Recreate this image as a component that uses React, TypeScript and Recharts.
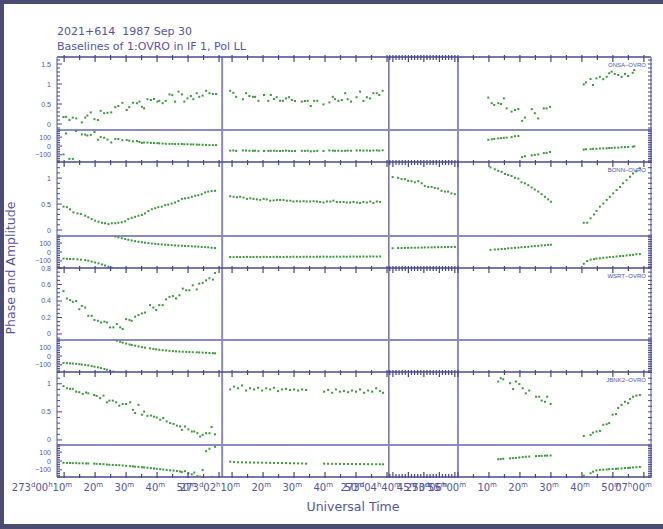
import React from "react";
import { ScatterChart, Scatter, XAxis, YAxis, ReferenceLine } from "recharts";

// observed blocks of the broken UT axis (minutes on day 273)
const SEGMENTS: [number, number][] = [
  [7.7, 61.0],
  [126.8, 180.6],
  [278.7, 301.0],
  [360.0, 422.3],
];

const X_MAJOR = [10, 20, 30, 40, 50, 60, 130, 140, 150, 160, 170, 180, 280, 285, 290, 295, 300, 360, 370, 380, 390, 400, 410, 420];
const X_MINOR = [15, 25, 35, 45, 55, 135, 145, 155, 165, 175, 279, 281, 282, 283, 284, 286, 287, 288, 289, 291, 292, 293, 294, 296, 297, 298, 299, 365, 375, 385, 395, 405, 415];
// [day, hour, minute] pieces of each time label
const X_LABELS: Record<number, [string, string, string]> = {
  10: ["273", "00", "10"], 20: ["", "", "20"], 30: ["", "", "30"], 40: ["", "", "40"], 50: ["", "", "50"],
  130: ["273", "02", "10"], 140: ["", "", "20"], 150: ["", "", "30"], 160: ["", "", "40"],
  170: ["", "", "50"], 280: ["273", "04", "40"], 285: ["", "", "45"], 290: ["", "", "50"],
  295: ["", "", "55"], 360: ["273", "06", "00"], 370: ["", "", "10"], 380: ["", "", "20"],
  390: ["", "", "30"], 400: ["", "", "40"], 410: ["", "", "50"], 420: ["", "07", "00"],
};

const ONSA_TIME = [
  9.8, 10.6, 11.7, 12.8, 13.9, 15.7, 16.8, 17.5, 18.6, 19.8, 20.9, 21.8, 22.9, 24.0, 25.2, 26.5, 27.5, 28.8, 30.2, 31.0,
  32.2, 33.5, 34.3, 35.1, 35.8, 36.9, 38.0, 39.0, 40.1, 40.7, 41.8, 42.8, 44.0, 44.9, 45.8, 46.9, 48.0, 48.8, 49.8, 50.9,
  51.7, 52.8, 53.6, 54.7, 55.8, 56.9, 58.0, 59.0,
  129.4, 130.4, 131.3, 133.5, 134.5, 135.6, 136.7, 137.4, 138.5, 140.3, 141.7, 142.5, 143.5, 144.4, 145.5, 146.4, 147.4,
  148.4, 149.3, 150.3, 152.5, 153.5, 154.4, 155.4, 156.5, 157.5, 159.5, 161.4, 162.5, 163.2, 164.3, 165.4, 166.5, 167.3,
  168.4, 170.2, 171.3, 172.4, 173.5, 174.5, 175.6, 176.7, 177.5, 178.6,
  369.8, 370.9, 371.7, 373.0, 373.9, 374.8, 375.7, 377.3, 378.4, 379.5, 380.7, 381.6, 383.8, 384.8, 385.9, 387.7, 388.6, 389.7,
  400.6, 401.3, 402.8, 403.6, 404.7, 405.8, 406.9, 408.0, 408.8, 409.6, 410.6, 411.7, 412.8, 413.9, 414.9, 416.4, 416.9,
];
const ONSA_AMP = [
  0.175, 0.18, 0.1, 0.16, 0.14, 0.04, 0.16, 0.21, 0.29, 0.12, 0.1, 0.33, 0.27, 0.28, 0.29, 0.42, 0.45, 0.53, 0.35, 0.42,
  0.53, 0.52, 0.56, 0.43, 0.39, 0.62, 0.6, 0.625, 0.56, 0.58, 0.52, 0.58, 0.74, 0.72, 0.56, 0.81, 0.74, 0.56, 0.64, 0.7,
  0.62, 0.77, 0.68, 0.71, 0.83, 0.77, 0.75, 0.75,
  0.83, 0.78, 0.68, 0.62, 0.77, 0.7, 0.68, 0.68, 0.58, 0.725, 0.58, 0.725, 0.625, 0.67, 0.58, 0.58, 0.64, 0.67, 0.6, 0.575,
  0.56, 0.575, 0.58, 0.45, 0.58, 0.58, 0.49, 0.54, 0.68, 0.62, 0.58, 0.6, 0.77, 0.62, 0.56, 0.67, 0.81, 0.575, 0.67, 0.64,
  0.77, 0.77, 0.725, 0.83,
  0.66, 0.52, 0.475, 0.52, 0.5, 0.64, 0.39, 0.31, 0.35, 0.375, 0.08, 0.16, 0.37, 0.27, 0.14, 0.39, 0.39, 0.43,
  0.99, 1.04, 1.125, 0.975, 1.14, 1.18, 1.12, 1.18, 1.27, 1.31, 1.25, 1.225, 1.18, 1.25, 1.2, 1.28, 1.35,
];
const ONSA_PHASE = [
  -94, 141, -145, -145, 168, 130, 128, 118, 125, 158, 70, 100, 92, 72, 40, 80, 78, 65, 68, 60,
  52, 55, 45, 35, 40, 38, 35, 33, 33, 30, 28, 25, 24, 24, 22, 22, 22, 20, 20, 18,
  18, 16, 15, 14, 12, 10, 10, 10,
  -52, -50, -55, -50, -52, -54, -55, -53, -58, -56, -55, -54, -53, -55, -56, -54, -52, -55, -57, -56,
  -54, -55, -53, -60, -58, -55, -56, -50, -52, -54, -53, -55, -54, -52, -53, -51, -50, -52, -51, -53,
  -50, -49, -52, -48,
  70, 75, 80, 85, 88, 92, 95, 100, 110, 112, -125, -115, -105, -100, -95, -80, -78, -68,
  -40, -37, -36, -32, -32, -28, -27, -26, -22, -22, -19, -18, -14, -13, -11, -8, -4,
];

const BONN_TIME = [
  9.8, 10.9, 11.9, 13.0, 14.3, 15.4, 16.8, 17.8, 18.9, 20.0, 21.1, 22.2, 23.2, 24.3, 25.4, 26.5, 27.5, 28.6, 29.7, 30.7,
  31.8, 32.9, 34.0, 35.1, 36.1, 37.2, 38.3, 39.4, 40.4, 41.5, 42.6, 43.6, 44.7, 45.8, 46.9, 48.0, 49.0, 50.1, 51.2, 52.3,
  53.3, 54.4, 55.5, 56.5, 57.6, 58.7,
  129.4, 130.5, 131.6, 132.6, 133.7, 134.8, 135.9, 136.9, 138.0, 139.1, 140.2, 141.2, 142.3, 143.4, 144.5, 145.5, 146.6,
  147.7, 148.8, 149.8, 150.9, 152.0, 153.1, 154.1, 155.2, 156.3, 157.4, 158.4, 159.5, 160.6, 161.7, 162.7, 163.8, 164.9,
  166.0, 167.0, 168.1, 169.2, 170.3, 171.3, 172.4, 173.5, 174.6, 175.6, 176.7, 177.8,
  279.9, 281.7, 282.8, 283.9, 284.9, 286.0, 287.1, 288.2, 289.3, 290.3, 291.4, 292.5, 293.5, 294.6, 295.7, 296.8, 297.8,
  298.9, 300.0,
  370.5, 371.9, 373.0, 374.1, 375.2, 376.2, 377.3, 378.4, 379.5, 380.5, 381.6, 382.7, 383.8, 384.8, 385.9, 387.0, 388.1,
  389.1, 390.0,
  400.6, 401.7, 402.8, 403.9, 404.7, 405.8, 406.9, 408.0, 409.0, 410.1, 411.2, 412.3, 413.3, 414.4, 415.5, 416.5, 417.6, 418.7,
];
const BONN_AMP = [
  0.45, 0.44, 0.4, 0.34, 0.32, 0.31, 0.275, 0.245, 0.21, 0.18, 0.16, 0.14, 0.13, 0.115, 0.13, 0.13, 0.14, 0.15, 0.17, 0.21,
  0.235, 0.255, 0.275, 0.29, 0.32, 0.365, 0.4, 0.42, 0.44, 0.45, 0.48, 0.49, 0.51, 0.53, 0.56, 0.6, 0.61, 0.62, 0.64, 0.66,
  0.67, 0.69, 0.725, 0.74, 0.75, 0.755,
  0.65, 0.64, 0.63, 0.64, 0.625, 0.6, 0.61, 0.6, 0.59, 0.58, 0.6, 0.59, 0.565, 0.57, 0.58, 0.58, 0.58, 0.565, 0.565, 0.55,
  0.555, 0.55, 0.555, 0.55, 0.55, 0.555, 0.55, 0.54, 0.53, 0.55, 0.55, 0.565, 0.54, 0.54, 0.54, 0.53, 0.53, 0.54, 0.53, 0.52,
  0.54, 0.53, 0.55, 0.52, 0.55, 0.54,
  1.02, 1.005, 0.98, 0.98, 0.95, 0.94, 0.92, 0.94, 0.9, 0.85, 0.83, 0.83, 0.81, 0.8, 0.755, 0.74, 0.74, 0.705, 0.69,
  1.205, 1.17, 1.14, 1.12, 1.08, 1.06, 1.04, 1.005, 0.99, 0.92, 0.9, 0.865, 0.82, 0.78, 0.74, 0.69, 0.64, 0.59, 0.545,
  0.14, 0.14, 0.225, 0.3, 0.37, 0.45, 0.51, 0.58, 0.64, 0.705, 0.77, 0.83, 0.9, 0.96, 1.025, 1.09, 1.13, 1.19,
];
const BONN_PHASE = [
  -74, -76, -78, -80, -83, -86, -92, -98, -108, -118, -128, -140, -152, -165, -178, 175, 165, 155, 146, 138,
  130, 122, 115, 110, 105, 100, 96, 92, 88, 85, 82, 80, 77, 74, 72, 70, 68, 66, 64, 62,
  60, 57, 55, 52, 48, 45,
  -56, -58, -55, -57, -56, -55, -57, -56, -55, -56, -54, -55, -56, -55, -54, -55, -56, -54, -55, -53,
  -54, -55, -54, -53, -54, -55, -53, -54, -52, -53, -54, -53, -52, -53, -52, -54, -52, -51, -53, -52,
  -51, -52, -50, -51, -52, -50,
  42, 44, 45, 46, 47, 48, 48, 49, 50, 51, 52, 52, 53, 54, 54, 55, 56, 56, 57,
  24, 28, 30, 34, 35, 41, 43, 47, 49, 54, 56, 59, 64, 66, 69, 74, 76, 80, 82,
  -133, -102, -86, -81, -74, -71, -65, -62, -57, -55, -50, -46, -45, -39, -36, -32, -26, -24,
];

const WSRT_TIME = [
  9.8, 10.9, 11.9, 12.8, 13.9, 14.9, 15.7, 16.8, 17.8, 18.9, 19.8, 20.9, 21.9, 23.0, 23.8, 24.8, 25.9, 27.0, 28.1, 28.9,
  30.0, 31.1, 31.8, 32.9, 34.0, 35.1, 36.1, 37.7, 38.8, 39.7, 40.7, 41.8, 42.9, 44.0, 45.1, 46.1, 47.2, 48.3, 49.4, 50.4,
  51.5, 52.8, 53.6, 54.7, 55.8, 56.9, 58.0, 58.7,
];
const WSRT_AMP = [
  0.52, 0.43, 0.41, 0.39, 0.4, 0.3, 0.34, 0.32, 0.22, 0.22, 0.17, 0.16, 0.14, 0.15, 0.14, 0.08, 0.08, 0.12, 0.08, 0.06,
  0.18, 0.17, 0.16, 0.21, 0.23, 0.25, 0.26, 0.35, 0.32, 0.29, 0.35, 0.35, 0.42, 0.45, 0.46, 0.43, 0.47, 0.55, 0.53, 0.53,
  0.59, 0.54, 0.61, 0.62, 0.65, 0.675, 0.66, 0.74,
];
const WSRT_PHASE = [
  -78, -80, -82, -85, -88, -92, -96, -100, -106, -114, -120, -128, -136, -146, -155, -165, -176, 172, 160, 150,
  140, 130, 124, 116, 108, 100, 94, 86, 80, 75, 70, 66, 62, 58, 55, 52, 50, 48, 46, 44,
  43, 41, 40, 38, 36, 34, 32, 30,
];

const JBNK_TIME = [
  9.8, 10.9, 11.9, 12.8, 13.9, 14.9, 16.0, 17.1, 17.8, 19.7, 20.5, 21.6, 22.7, 23.8, 24.6, 25.7, 26.8, 27.8, 28.9, 30.0,
  31.3, 32.2, 32.9, 34.0, 35.1, 35.8, 36.9, 38.0, 39.0, 39.9, 41.0, 42.0, 43.1, 44.2, 45.3, 46.4, 47.4, 48.0, 49.0, 50.1,
  51.2, 52.0, 53.0, 53.9, 54.7, 55.8, 56.9, 57.6, 58.7,
  129.4, 130.6, 131.9, 133.2, 134.5, 135.8, 137.1, 138.4, 139.7, 141.0, 142.3, 143.5, 144.8, 146.1, 147.4, 148.7, 150.0,
  151.3, 152.6, 153.9, 159.7, 161.0, 162.3, 163.5, 164.8, 166.1, 167.4, 168.7, 170.0, 171.3, 172.6, 173.9, 175.2, 176.5,
  177.7, 178.7,
  373.0, 373.8, 374.6, 376.8, 377.8, 378.7, 379.8, 380.9, 381.9, 383.0, 385.2, 386.2, 387.0, 388.1, 388.8, 389.9,
  400.6, 402.8, 403.6, 404.7, 405.8, 406.9, 408.0, 408.8, 409.9, 411.0, 411.7, 412.8, 413.9, 414.9, 415.5, 416.5, 417.6, 418.7,
];
const JBNK_AMP = [
  0.96, 0.92, 0.91, 0.91, 0.86, 0.85, 0.82, 0.845, 0.83, 0.8, 0.785, 0.745, 0.79, 0.67, 0.7, 0.7, 0.67, 0.61, 0.64, 0.64,
  0.67, 0.535, 0.48, 0.625, 0.45, 0.505, 0.43, 0.435, 0.415, 0.4, 0.36, 0.39, 0.33, 0.3, 0.285, 0.255, 0.24, 0.18, 0.24, 0.19,
  0.15, 0.15, 0.12, 0.06, 0.09, 0.12, 0.12, 0.23, 0.1,
  0.9, 0.95, 0.92, 0.97, 0.88, 0.92, 0.9, 0.93, 0.88, 0.92, 0.9, 0.93, 0.87, 0.9, 0.91, 0.89, 0.9, 0.88, 0.9, 0.89,
  0.86, 0.89, 0.84, 0.9, 0.86, 0.87, 0.85, 0.88, 0.86, 0.9, 0.84, 0.88, 0.86, 0.92, 0.87, 0.84,
  1.04, 1.1, 1.08, 1.01, 0.905, 1.04, 0.995, 0.92, 0.83, 0.88, 0.77, 0.77, 0.7, 0.68, 0.77, 0.64,
  0.07, 0.09, 0.13, 0.15, 0.16, 0.27, 0.28, 0.3, 0.45, 0.46, 0.57, 0.625, 0.68, 0.655, 0.73, 0.77, 0.79, 0.8,
];
const JBNK_PHASE = [
  -20, -22, -22, -24, -24, -26, -26, -28, -28, -30, -32, -34, -36, -40, -42, -44, -46, -48, -50, -54,
  -58, -60, -64, -66, -70, -72, -76, -80, -84, -88, -92, -96, -100, -105, -108, -112, -118, -125, -115, -140,
  -150, -130, -170, -175, -100, 110, 138, -178, 160,
  -8, -12, -14, -15, -16, -17, -18, -18, -19, -20, -21, -22, -22, -23, -24, -25, -26, -27, -28, -30,
  -30, -31, -32, -32, -33, -33, -34, -34, -35, -35, -35, -36, -36, -36, -37, -37,
  20, 22, 25, 30, 32, 35, 40, 44, 48, 50, 55, 57, 58, 60, 61, 62,
  -165, -138, -120, -106, -100, -98, -95, -92, -90, -88, -86, -84, -80, -78, -76, -72, -70, -67,
];

const W = 663;
const TEXT = "#5454a4";
const TICK = "#45458e";
const FRAME = "#8a8ac6";
const DARK = "#4a4a90";
const DOT = "#3a9a3a";

const TOTAL = SEGMENTS.reduce((s, [a, b]) => s + (b - a), 0);

function toDisp(t: number) {
  let off = 0;
  for (const [a, b] of SEGMENTS) {
    if (t <= b + 1e-9) return off + Math.max(0, t - a);
    off += b - a;
  }
  return off;
}

const DIVIDERS = SEGMENTS.slice(0, -1).map((_, i) =>
  SEGMENTS.slice(0, i + 1).reduce((s, [a, b]) => s + (b - a), 0)
);

const X_TICKS = [
  ...X_MAJOR.map((t) => ({ t, major: true })),
  ...X_MINOR.map((t) => ({ t, major: false })),
]
  .map((k) => ({ ...k, d: toDisp(k.t) }))
  .sort((a, b) => a.d - b.d);
const X_TICK_VALUES = X_TICKS.map((k) => k.d);

function findX(v: number) {
  return X_TICKS.find((k) => Math.abs(k.d - v) < 1e-6);
}

function yTicks(domain: number[], step: number) {
  const out: number[] = [];
  for (let k = Math.ceil(domain[0] / step - 1e-9); k <= Math.floor(domain[1] / step + 1e-9); k++) {
    out.push(Number((k * step).toFixed(4)));
  }
  return out;
}

const fmt = (v: number) => String(v).replace("-", "\u2212");

const makeLeftTick = (majors: number[]) => (p: any) => {
  const v = p.payload.value;
  const major = majors.some((m) => Math.abs(m - v) < 1e-6);
  return (
    <g>
      <line x1={p.x} x2={p.x + (major ? 5 : 3)} y1={p.y} y2={p.y} stroke={TICK} strokeWidth={1} />
      {major && (
        <text x={p.x - 6} y={p.y + 2.5} textAnchor="end" fontSize={7} fill={TEXT} fontFamily="Liberation Sans">
          {fmt(v)}
        </text>
      )}
    </g>
  );
};

const rightTick = (p: any) => (
  <line x1={p.x - 3} x2={p.x + 1} y1={p.y} y2={p.y} stroke={TICK} strokeWidth={1} />
);

const topTick = (p: any) => {
  const k = findX(p.payload.value);
  const len = k && k.major ? 5 : 3;
  return <line x1={p.x} x2={p.x} y1={p.y - 2} y2={p.y + len} stroke={TICK} strokeWidth={1.2} />;
};

const bottomTick = (p: any) => {
  const k = findX(p.payload.value);
  const lab = k && k.major ? X_LABELS[k.t] : undefined;
  return (
    <g>
      <line x1={p.x} x2={p.x} y1={p.y + 1} y2={p.y - (k && k.major ? 5 : 3)} stroke={TICK} strokeWidth={1.2} />
      {lab && (
        <text x={p.x + 8} y={p.y + 14} textAnchor="end" fontSize={10} fill={TEXT} fontFamily="DejaVu Sans">
          {lab[0] && <tspan>{lab[0]}</tspan>}
          {lab[0] && <tspan fontSize={7} dy={-4}>d</tspan>}
          {lab[1] && <tspan dy={lab[0] ? 4 : 0}>{lab[1]}</tspan>}
          {lab[1] && <tspan fontSize={7} dy={-4}>h</tspan>}
          <tspan dy={lab[1] ? 4 : 0}>{lab[2]}</tspan>
          <tspan fontSize={7} dy={-4}>m</tspan>
        </text>
      )}
    </g>
  );
};

const dotShape = (p: any) => <rect x={p.cx - 1} y={p.cy - 1} width={2} height={2} fill={DOT} />;
const noShape = () => <g />;

interface PanelProps {
  top: number;
  bottom: number;
  domain: number[];
  step: number;
  majors: number[];
  points: { x: number; y: number }[];
  withTicks: boolean;
  withLabels: boolean;
}

function Panel({ top, bottom, domain, step, majors, points, withTicks, withLabels }: PanelProps) {
  const hTop = 6;
  const hBottom = withLabels ? 34 : 2;
  const ticks = yTicks(domain, step);
  return (
    <div style={{ position: "absolute", left: 0, top: top - hTop }}>
      <ScatterChart
        width={W}
        height={bottom - top + hTop + hBottom}
        margin={{ top: 0, right: 4, bottom: withLabels ? 0 : 2, left: 0 }}
      >
        <XAxis
          xAxisId="t"
          orientation="top"
          type="number"
          dataKey="x"
          domain={[0, TOTAL]}
          allowDataOverflow
          ticks={X_TICK_VALUES}
          interval={0}
          height={hTop}
          tickSize={0}
          tickMargin={0}
          tickLine={false}
          tick={withTicks ? topTick : false}
          axisLine={{ stroke: withTicks ? DARK : FRAME, strokeWidth: withTicks ? 1.5 : 2 }}
        />
        {withLabels && (
          <XAxis
            xAxisId="b"
            orientation="bottom"
            type="number"
            dataKey="x"
            domain={[0, TOTAL]}
            allowDataOverflow
            ticks={X_TICK_VALUES}
            interval={0}
            height={34}
            tickSize={0}
            tickMargin={0}
            tickLine={false}
            tick={bottomTick}
            axisLine={{ stroke: DARK, strokeWidth: 1.5 }}
          />
        )}
        <YAxis
          yAxisId="l"
          type="number"
          dataKey="y"
          domain={domain}
          allowDataOverflow
          ticks={ticks}
          interval={0}
          width={57}
          tickSize={0}
          tickMargin={0}
          tickLine={false}
          tick={makeLeftTick(majors)}
          axisLine={{ stroke: FRAME, strokeWidth: 1.5 }}
        />
        <YAxis
          yAxisId="r"
          orientation="right"
          type="number"
          dataKey="y"
          domain={domain}
          allowDataOverflow
          ticks={ticks}
          interval={0}
          width={8}
          tickSize={0}
          tickMargin={0}
          tickLine={false}
          tick={rightTick}
          axisLine={{ stroke: FRAME, strokeWidth: 1.5 }}
        />
        {DIVIDERS.map((d, i) => (
          <ReferenceLine
            key={i}
            x={d}
            xAxisId="t"
            yAxisId="l"
            stroke={i === 1 ? DARK : FRAME}
            strokeWidth={i === 1 ? 1.2 : 2}
          />
        ))}
        <Scatter xAxisId="t" yAxisId="l" data={points} shape={dotShape} isAnimationActive={false} />
        {/* unpainted series so that the bottom and right axes get their scales */}
        <Scatter
          xAxisId={withLabels ? "b" : "t"}
          yAxisId="r"
          data={points}
          shape={noShape}
          isAnimationActive={false}
        />
      </ScatterChart>
    </div>
  );
}

const PHASE_DOMAIN = [-180, 180];

const ROWS = [
  { name: "ONSA\u2013OVRO", time: ONSA_TIME, amp: ONSA_AMP, phase: ONSA_PHASE, top: 57, mid: 130, bottom: 162, domain: [-0.15, 1.675], step: 0.1, majors: [0, 0.5, 1, 1.5] },
  { name: "BONN\u2013OVRO", time: BONN_TIME, amp: BONN_AMP, phase: BONN_PHASE, top: 162, mid: 236, bottom: 268, domain: [-0.115, 1.31], step: 0.1, majors: [0, 0.5, 1] },
  { name: "WSRT\u2013OVRO", time: WSRT_TIME, amp: WSRT_AMP, phase: WSRT_PHASE, top: 268, mid: 340, bottom: 372, domain: [-0.073, 0.8], step: 0.05, majors: [0, 0.2, 0.4, 0.6, 0.8] },
  { name: "JBNK2\u2013OVRO", time: JBNK_TIME, amp: JBNK_AMP, phase: JBNK_PHASE, top: 372, mid: 445, bottom: 477, domain: [-0.09, 1.21], step: 0.1, majors: [0, 0.5, 1] },
];

export default function App() {
  return (
    <div style={{ position: "absolute", left: 0, top: 0, width: W, height: 529, background: "#4c4c70", overflow: "hidden" }}>
      <div style={{ position: "absolute", left: 4, top: 4, width: 659, height: 520, background: "#ffffff" }} />
      {ROWS.map((r, i) => (
        <React.Fragment key={r.name}>
          <Panel
            top={r.top}
            bottom={r.mid}
            domain={r.domain}
            step={r.step}
            majors={r.majors}
            points={r.time.map((t, j) => ({ x: toDisp(t), y: r.amp[j] }))}
            withTicks
            withLabels={false}
          />
          <Panel
            top={r.mid}
            bottom={r.bottom}
            domain={PHASE_DOMAIN}
            step={20}
            majors={[-100, 0, 100]}
            points={r.time.map((t, j) => ({ x: toDisp(t), y: r.phase[j] }))}
            withTicks={false}
            withLabels={i === ROWS.length - 1}
          />
        </React.Fragment>
      ))}
      <svg width={W} height={529} style={{ position: "absolute", left: 0, top: 0, pointerEvents: "none" }}>
        <g fontFamily="DejaVu Sans" fill={TEXT}>
          <text x={57} y={35} fontSize={11} style={{ whiteSpace: "pre" }}>
            2021+614  1987 Sep 30
          </text>
          <text x={57} y={50} fontSize={11}>
            Baselines of 1:OVRO in IF 1, Pol LL
          </text>
          <text x={353} y={511} fontSize={12.5} textAnchor="middle">
            Universal Time
          </text>
          <text x={15} y={268} fontSize={12.5} textAnchor="middle" transform="rotate(-90 15 268)">
            Phase and Amplitude
          </text>
          {ROWS.map((r) => (
            <text key={r.name} x={646} y={r.top + 10} fontSize={6} textAnchor="end" fontFamily="Liberation Sans">
              {r.name}
            </text>
          ))}
        </g>
      </svg>
    </div>
  );
}
